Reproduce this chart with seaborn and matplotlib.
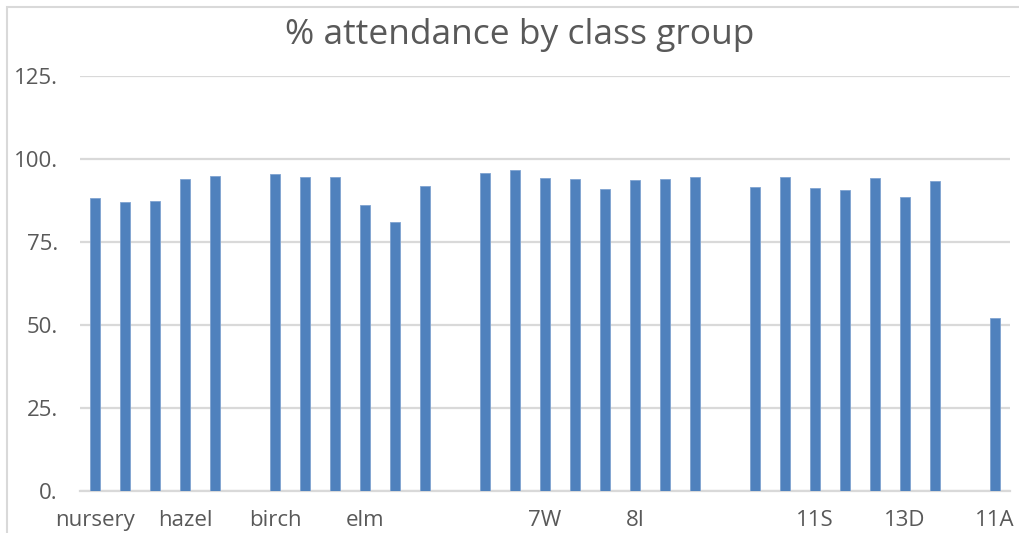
import numpy as np
import pandas as pd
import seaborn as sns
import matplotlib.pyplot as plt
from matplotlib.patches import Rectangle

# attendance per class slot (None = empty gap slot in the chart)
attendance = [88.2, 87.1, 87.2, 94.0, 94.9, None,
              95.6, 94.7, 94.6, 86.2, 81.0, 92.0, None,
              95.9, 96.8, 94.3, 94.0, 91.1, 93.8, 94.0, 94.6, None,
              91.6, 94.6, 91.3, 90.6, 94.2, 88.5, 93.4, None,
              52.1]
# only every third category gets a label on the axis
tick_labels = ["nursery", "hazel", "birch", "elm", "", "7W", "8I", "", "11S", "13D", "11A"]
y_ticks = [0, 25, 50, 75, 100, 125]

df = pd.DataFrame({"slot": range(len(attendance)),
                   "pct": [np.nan if v is None else v for v in attendance]})

sns.set_style("white")
plt.rcParams['font.family'] = ['Open Sans', 'DejaVu Sans']

fig = plt.figure(figsize=(10.19, 5.33), dpi=100)
ax = fig.add_axes([80 / 1019, 42 / 533, 930 / 1019, 415 / 533])

sns.barplot(data=df, x="slot", y="pct", color="#4F81BD", saturation=1,
            width=0.32, edgecolor="#7FA3D1", linewidth=0.6, ax=ax, zorder=3)

ax.set_xlim(-0.5, 30.5)
ax.set_ylim(0, 125)
ax.set_yticks(y_ticks)
ax.set_yticklabels([f"{t}." for t in y_ticks], fontsize=16, color="#595959")
ax.set_xticks(range(0, len(attendance), 3))
ax.set_xticklabels(tick_labels, fontsize=16, color="#595959")
ax.tick_params(axis="both", length=0)
ax.tick_params(axis="y", pad=16)
ax.tick_params(axis="x", pad=14)
ax.set_xlabel("")
ax.set_ylabel("")
ax.grid(axis="y", color="#D9D9D9", linewidth=1.6, zorder=0)
for s in ["top", "right", "left"]:
    ax.spines[s].set_visible(False)
ax.spines["bottom"].set_color("#D9D9D9")
ax.spines["bottom"].set_linewidth(1.6)

fig.text(0.51, 0.935, "% attendance by class group", ha="center", va="center",
         fontsize=25.5, color="#595959")

# chart border from the spreadsheet frame, cut off at right and bottom
fig.patches.append(Rectangle((7 / 1019, -0.1), 1.2, (533 - 7) / 533 + 0.1,
                             transform=fig.transFigure, fill=False,
                             edgecolor="#D9D9D9", linewidth=1.5))

fig.savefig("out.png", dpi=100)
